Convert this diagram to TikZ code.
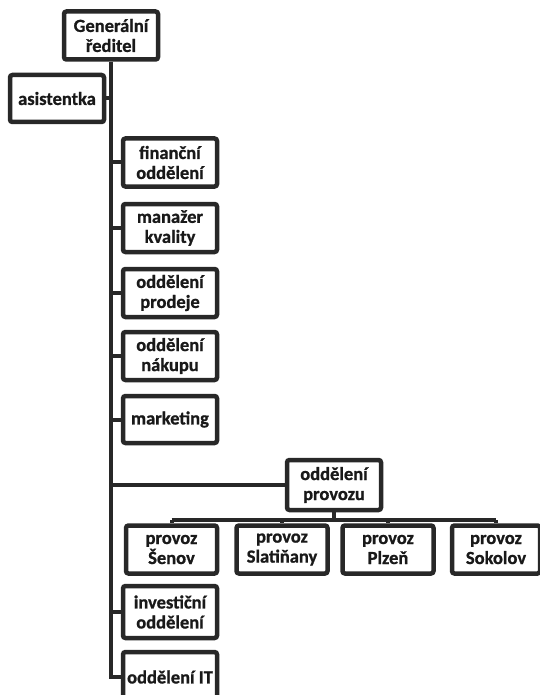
\documentclass[tikz,border=0pt]{standalone}
\usepackage{fontspec}
\setmainfont{Carlito}[BoldFeatures={FakeBold=0.9}]
\usepackage{tikz}
\usetikzlibrary{positioning}
\definecolor{boxLine}{RGB}{40,40,40}
\definecolor{boxText}{RGB}{25,25,25}
\tikzset{
  orgbox/.style={rectangle,rounded corners=2.5pt,draw=boxLine,line width=4.5pt,fill=white,
                 text=boxText,align=center,inner sep=1pt,
                 font=\fontsize{18.5}{20}\selectfont\bfseries,
                 minimum width=94pt,minimum height=48pt},
  subbox/.style={orgbox,minimum width=91pt},
  link/.style={draw=boxLine,line width=4pt}
}
\begin{document}
\begin{tikzpicture}[x=1pt,y=1pt]
  \useasboundingbox (0,0) rectangle (539,-695);
  \fill[white] (0,0) rectangle (539,-695);

  %% Top of the chart
  \node[orgbox] (gen) at (111,-35.5) {Generální\\ředitel};
  \node[orgbox,minimum height=47pt] (asist) at (57,-98.5) {asistentka};

  %% Departments along the trunk
  \node[orgbox] (fin) at (170,-162.5) {finanční\\oddělení};
  \node[orgbox] (kval) at (170,-228) {manažer\\kvality};
  \node[orgbox] (prod) at (170,-293) {oddělení\\prodeje};
  \node[orgbox] (nak) at (170,-356) {oddělení\\nákupu};
  \node[orgbox,minimum height=47pt] (mkt) at (170,-419.5) {marketing};
  \node[orgbox,minimum height=50pt] (provozu) at (334,-485) {oddělení\\provozu};
  \node[orgbox,minimum height=52pt] (invest) at (170,-612) {investiční\\oddělení};
  \node[orgbox,minimum height=50pt] (it) at (170,-677) {oddělení IT};

  %% Plants under operations
  \node[subbox] (senov) at (171.5,-549.5) {provoz\\Šenov};
  \node[subbox] (slat) at (282,-549.5) {provoz\\Slatiňany};
  \node[subbox] (plzen) at (388,-549.5) {provoz\\Plzeň};
  \node[subbox,minimum width=88pt] (sokolov) at (496,-549.5) {provoz\\Sokolov};

  %% Connectors
  \draw[link] (gen.south) -- (gen.south |- it.west) -- (it.west);
  \draw[link] (gen.south |- asist.east) -- (asist.east);
  \foreach \dept in {fin,kval,prod,nak,mkt,provozu,invest}
    \draw[link] (gen.south |- \dept.west) -- (\dept.west);
  \draw[link] (provozu.south) -- ++(0,-8) coordinate (bus);
  \draw[link] (bus -| senov.north) -- (bus -| sokolov.north);
  \foreach \plant in {senov,slat,plzen,sokolov}
    \draw[link] (bus -| \plant.north) -- (\plant.north);
\end{tikzpicture}
\end{document}
